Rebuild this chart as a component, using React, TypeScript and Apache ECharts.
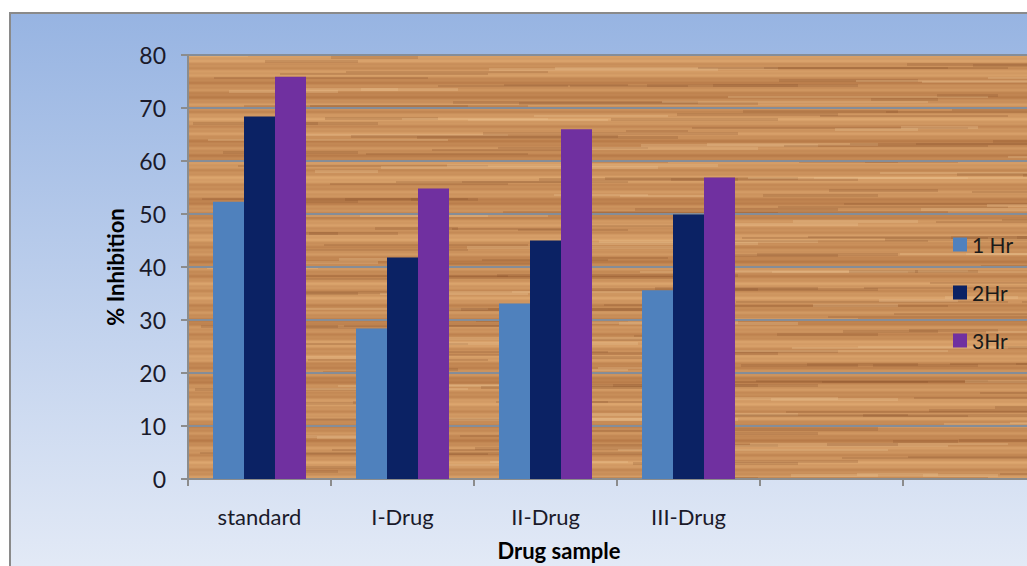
import React, { useEffect, useRef } from "react";
import * as echarts from "echarts";

const categories = ["standard", "I-Drug", "II-Drug", "III-Drug", "", ""];
const hr1 = [52.3, 28.4, 33.1, 35.6];
const hr2 = [68.4, 41.8, 45.0, 49.9];
const hr3 = [75.9, 54.8, 66.0, 56.9];
const seriesNames = ["1 Hr", "2Hr", "3Hr"];
const seriesColors = ["#4F81BD", "#0B2264", "#7030A0"];

function makeWood(): HTMLCanvasElement {
  const w = 1060;
  const h = 520;
  const c = document.createElement("canvas");
  c.width = w;
  c.height = h;
  const ctx = c.getContext("2d")!;
  const dark = [168, 104, 56];
  const light = [222, 168, 112];
  for (let y = 0; y < h; y++) {
    let t =
      0.62 +
      0.16 * Math.sin(y * 0.42) +
      0.12 * Math.sin(y * 0.11 + 0.7) +
      0.08 * Math.sin(y * 1.3 + 0.3);
    t = Math.max(0, Math.min(1, t));
    const r = Math.round(dark[0] + (light[0] - dark[0]) * t);
    const g = Math.round(dark[1] + (light[1] - dark[1]) * t);
    const b = Math.round(dark[2] + (light[2] - dark[2]) * t);
    ctx.fillStyle = `rgb(${r},${g},${b})`;
    ctx.fillRect(0, y, w, 1);
  }
  for (let i = 0; i < 420; i++) {
    const x = (i * 137) % w;
    const y = (i * 61 + ((i * i) % 7)) % h;
    const len = 60 + ((i * 53) % 220);
    ctx.fillStyle =
      i % 3 === 0 ? "rgba(236,196,146,0.3)" : "rgba(125,72,35,0.2)";
    ctx.fillRect(x, y, len, 2 + (i % 2));
  }
  return c;
}

export default function App() {
  const ref = useRef<HTMLDivElement>(null);
  useEffect(() => {
    if (!ref.current) return;
    const chart = echarts.init(ref.current, null, { renderer: "svg" });
    const wood = makeWood();
    const font = "Lato, 'Noto Sans', sans-serif";
    const data = [hr1, hr2, hr3];
    chart.setOption({
      animation: false,
      backgroundColor: "#ffffff",
      graphic: [
        {
          type: "rect",
          z: -10,
          silent: true,
          shape: { x: 10, y: 13, width: 1060, height: 580 },
          style: {
            fill: new echarts.graphic.LinearGradient(0, 0, 0, 1, [
              { offset: 0, color: "#97b4e2" },
              { offset: 1, color: "#e6ecf7" },
            ]),
            stroke: "#8a8a8a",
            lineWidth: 2,
          },
        },
      ],
      grid: {
        show: true,
        left: 188,
        top: 55,
        right: 4,
        bottom: 86,
        borderWidth: 0,
        backgroundColor: { image: wood, repeat: "no-repeat" },
        z: 0,
      },
      legend: {
        orient: "vertical",
        left: 948,
        top: 229,
        itemWidth: 14,
        itemHeight: 14,
        itemGap: 27,
        icon: "rect",
        data: seriesNames,
        textStyle: { fontFamily: font, fontSize: 21, color: "#1a1a1a" },
      },
      xAxis: {
        type: "category",
        data: categories,
        z: 2,
        name: "Drug sample",
        nameLocation: "middle",
        nameGap: 60,
        nameTextStyle: {
          fontFamily: font,
          fontSize: 22,
          fontWeight: "bold",
          color: "#000",
          padding: [0, 116, 0, 0],
        },
        axisLine: { show: true, lineStyle: { color: "#8c8c8c", width: 2 } },
        axisTick: {
          show: true,
          interval: 0,
          length: 7,
          alignWithLabel: false,
          lineStyle: { color: "#8c8c8c", width: 2 },
        },
        axisLabel: {
          interval: 0,
          margin: 26,
          fontFamily: font,
          fontSize: 22,
          color: "#1a1a2a",
        },
        splitLine: { show: false },
      },
      yAxis: {
        type: "value",
        min: 0,
        max: 80,
        interval: 10,
        z: 2,
        name: "% Inhibition",
        nameLocation: "middle",
        nameGap: 62,
        nameRotate: 90,
        nameTextStyle: {
          fontFamily: font,
          fontSize: 22,
          fontWeight: "bold",
          color: "#000",
        },
        axisLine: { show: true, lineStyle: { color: "#8c8c8c", width: 2 } },
        axisTick: {
          show: true,
          length: 7,
          lineStyle: { color: "#8c8c8c", width: 2 },
        },
        axisLabel: {
          margin: 22,
          fontFamily: font,
          fontSize: 23,
          color: "#1a1a2a",
        },
        splitLine: { show: true, lineStyle: { color: "#858d98", width: 2 } },
      },
      series: seriesNames.map((name, i) => ({
        name,
        type: "bar",
        data: data[i],
        barWidth: 31,
        barGap: "0%",
        itemStyle: { color: seriesColors[i] },
        z: 3,
      })),
    });
    return () => chart.dispose();
  }, []);
  return (
    <div
      ref={ref}
      style={{ position: "fixed", left: 0, top: 0, width: 1050, height: 566 }}
    />
  );
}
